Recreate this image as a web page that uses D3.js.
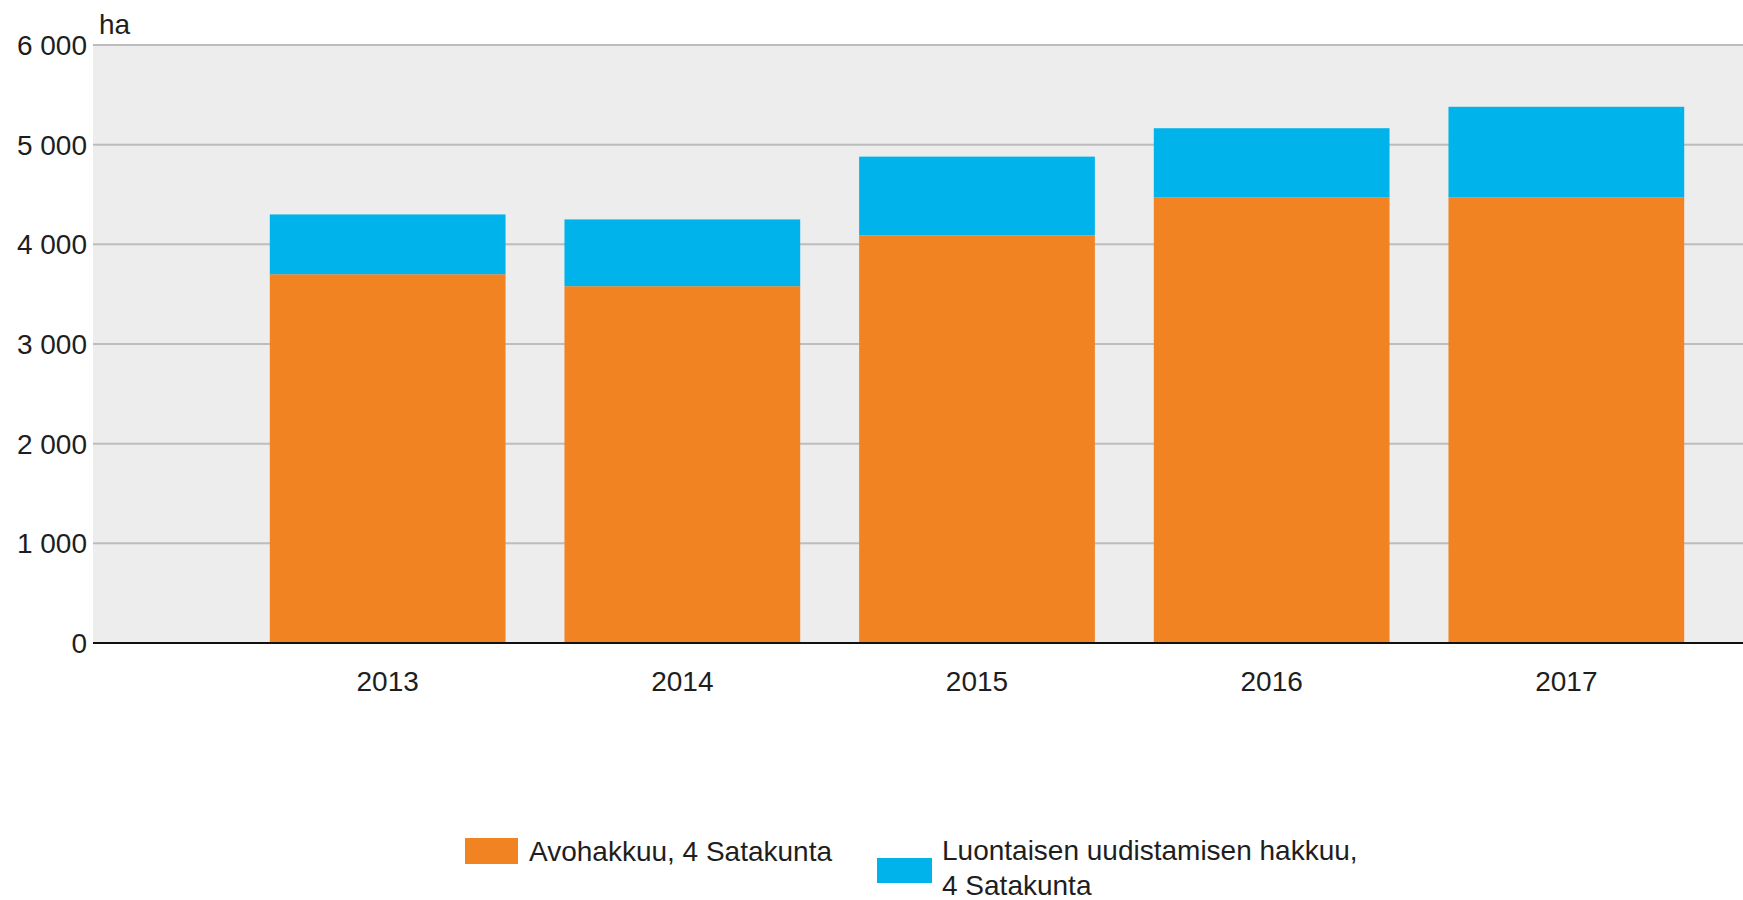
<!DOCTYPE html>
<html>
<head>
<meta charset="utf-8">
<script src="https://cdn.jsdelivr.net/npm/d3@7"></script>
<style>
  html, body { margin: 0; padding: 0; background: #fff; }
  svg text { font-family: "Liberation Sans", Arial, sans-serif; fill: #1e1e1e; }
</style>
</head>
<body>
<div id="chart"></div>
<script>
// vuodet ja sarjat (ha)
const years = ["2013", "2014", "2015", "2016", "2017"];
const avohakkuu = [3700, 3580, 4090, 4470, 4470];
const luontainen = [600, 670, 790, 695, 910];
const seriesNames = ["Avohakkuu, 4 Satakunta", "Luontaisen uudistamisen hakkuu,|4 Satakunta"];
const seriesColors = ["#f28322", "#00b4eb"];
const yTicks = [0, 1000, 2000, 3000, 4000, 5000, 6000];

const width = 1743;
const height = 900;
const plotLeft = 93, plotTop = 45, plotBottom = 643;

const svg = d3.select("#chart")
  .append("svg")
  .attr("width", width)
  .attr("height", height);

// x-akseli jatkuu kuvan oikean reunan yli
const x = d3.scaleBand()
  .domain(years)
  .range([plotLeft, plotLeft + 1768])
  .paddingInner(0.2)
  .paddingOuter(0.6);

const y = d3.scaleLinear()
  .domain([0, 6000])
  .range([plotBottom, plotTop]);

const fmt = d3.formatLocale({ decimal: ",", thousands: " ", grouping: [3], currency: ["", ""] }).format(",d");

// taustaväri
svg.append("rect")
  .attr("x", plotLeft)
  .attr("y", y(6000))
  .attr("width", width - plotLeft)
  .attr("height", y(0) - y(6000))
  .attr("fill", "#ededed");

// apuviivat
svg.selectAll(".grid")
  .data(yTicks.filter(d => d > 0))
  .join("line")
  .attr("x1", plotLeft)
  .attr("x2", width)
  .attr("y1", d => y(d))
  .attr("y2", d => y(d))
  .attr("stroke", "#bdbdbd")
  .attr("stroke-width", 2);

const stackData = years.map((yr, i) => ({ year: yr, a: avohakkuu[i], b: luontainen[i] }));
const stack = d3.stack().keys(["a", "b"])(stackData);

svg.selectAll(".layer")
  .data(stack)
  .join("g")
  .attr("fill", (d, i) => seriesColors[i])
  .selectAll("rect")
  .data(d => d)
  .join("rect")
  .attr("x", d => x(d.data.year))
  .attr("y", d => y(d[1]))
  .attr("width", x.bandwidth())
  .attr("height", d => y(d[0]) - y(d[1]));

// nollaviiva
svg.append("line")
  .attr("x1", plotLeft)
  .attr("x2", width)
  .attr("y1", y(0))
  .attr("y2", y(0))
  .attr("stroke", "#111")
  .attr("stroke-width", 2);

// y-akselin tekstit
svg.selectAll(".ytick")
  .data(yTicks)
  .join("text")
  .attr("x", plotLeft - 6)
  .attr("y", d => y(d))
  .attr("dy", "0.36em")
  .attr("text-anchor", "end")
  .attr("font-size", 28)
  .text(d => fmt(d));

svg.append("text")
  .attr("x", 99)
  .attr("y", 34)
  .attr("font-size", 28)
  .text("ha");

// x-akselin tekstit
svg.selectAll(".xtick")
  .data(years)
  .join("text")
  .attr("x", d => x(d) + x.bandwidth() / 2)
  .attr("y", 691)
  .attr("text-anchor", "middle")
  .attr("font-size", 28)
  .text(d => d);

// selite
const legendPos = [{ x: 465, y: 838 }, { x: 877, y: 858 }];
const leg = svg.selectAll(".legend")
  .data(seriesNames)
  .join("g")
  .attr("transform", (d, i) => `translate(${legendPos[i].x},${legendPos[i].y})`);

leg.append("rect")
  .attr("width", (d, i) => i === 0 ? 53 : 55)
  .attr("height", (d, i) => i === 0 ? 26 : 25)
  .attr("fill", (d, i) => seriesColors[i]);

leg.each(function (d, i) {
  const lines = d.split("|");
  const t = d3.select(this).append("text")
    .attr("font-size", 28)
    .attr("x", i === 0 ? 64 : 65)
    .attr("y", i === 0 ? 23 : 2);
  lines.forEach((ln, k) => {
    t.append("tspan")
      .attr("x", i === 0 ? 64 : 65)
      .attr("dy", k === 0 ? 0 : 35)
      .text(ln);
  });
});
</script>
</body>
</html>
